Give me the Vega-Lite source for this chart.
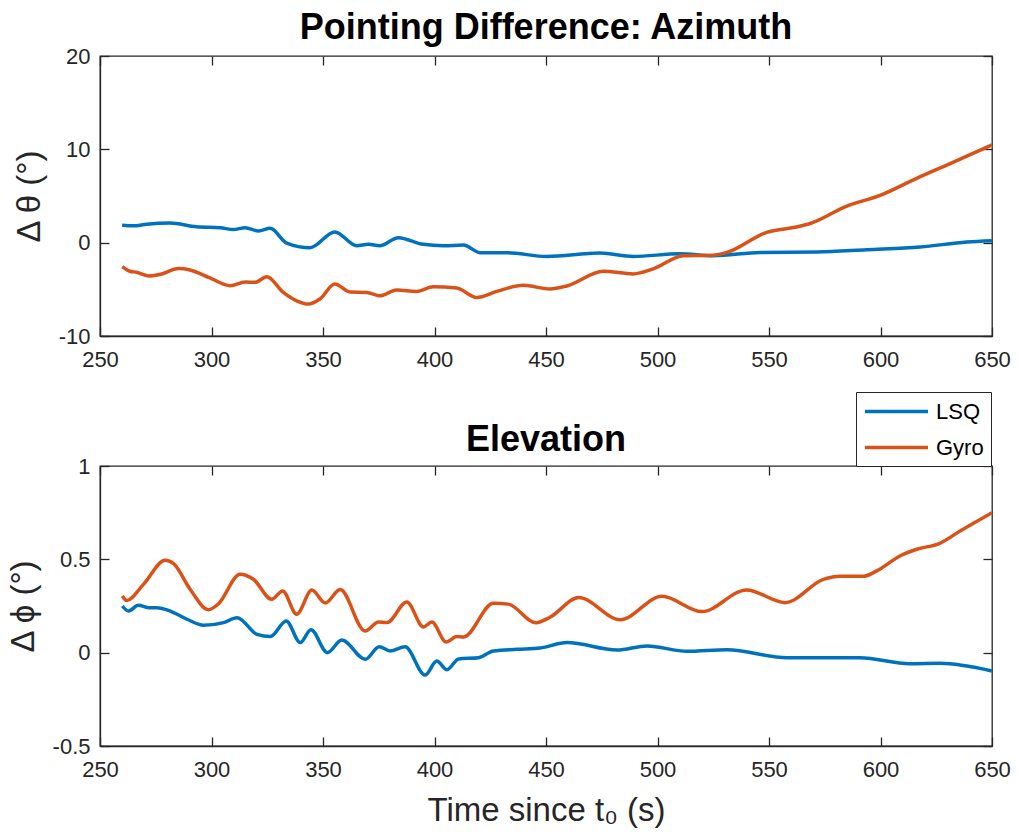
{
  "$schema": "https://vega.github.io/schema/vega-lite/v6.json",
  "padding": {"left": 6, "top": 9, "right": 5, "bottom": 5},
  "bounds": "flush",
  "spacing": 130,
  "config": {
    "font": "Liberation Sans",
    "view": {"stroke": "#262626", "strokeWidth": 1.3},
    "axis": {"grid": false, "labelFlush": false, "domainColor": "#262626", "domainWidth": 1.3, "tickColor": "#262626", "tickWidth": 1.3, "tickSize": -9, "labelPadding": 19, "labelFontSize": 22, "labelColor": "#262626", "titleFontSize": 33, "titleColor": "#262626", "titleFontWeight": "normal", "labelFont": "Liberation Sans", "titleFont": "Liberation Sans"},
    "axisX": {"labelPadding": 22},
    "title": {"fontSize": 36, "fontWeight": "bold", "color": "#000000", "font": "Liberation Sans"}
  },
  "datasets": {
    "az": [
      {"series": "LSQ", "t": 259.9, "v": 1.87},
      {"series": "LSQ", "t": 265, "v": 1.8},
      {"series": "LSQ", "t": 270.9, "v": 1.97},
      {"series": "LSQ", "t": 281.3, "v": 2.1},
      {"series": "LSQ", "t": 293.3, "v": 1.7},
      {"series": "LSQ", "t": 303.9, "v": 1.6},
      {"series": "LSQ", "t": 309.8, "v": 1.4},
      {"series": "LSQ", "t": 315.1, "v": 1.6},
      {"series": "LSQ", "t": 321.1, "v": 1.25},
      {"series": "LSQ", "t": 326.3, "v": 1.54},
      {"series": "LSQ", "t": 333.7, "v": -0.04},
      {"series": "LSQ", "t": 344.2, "v": -0.54},
      {"series": "LSQ", "t": 355.3, "v": 1.15},
      {"series": "LSQ", "t": 365.1, "v": -0.33},
      {"series": "LSQ", "t": 370.4, "v": -0.18},
      {"series": "LSQ", "t": 375.4, "v": -0.33},
      {"series": "LSQ", "t": 383.8, "v": 0.54},
      {"series": "LSQ", "t": 394.9, "v": -0.18},
      {"series": "LSQ", "t": 404, "v": -0.33},
      {"series": "LSQ", "t": 413, "v": -0.26},
      {"series": "LSQ", "t": 420.5, "v": -1.08},
      {"series": "LSQ", "t": 432.4, "v": -1.08},
      {"series": "LSQ", "t": 450.3, "v": -1.48},
      {"series": "LSQ", "t": 474.2, "v": -1.12},
      {"series": "LSQ", "t": 489.1, "v": -1.48},
      {"series": "LSQ", "t": 510.1, "v": -1.19},
      {"series": "LSQ", "t": 525.1, "v": -1.4},
      {"series": "LSQ", "t": 546.1, "v": -1.05},
      {"series": "LSQ", "t": 571.5, "v": -1.01},
      {"series": "LSQ", "t": 593.9, "v": -0.76},
      {"series": "LSQ", "t": 617.8, "v": -0.47},
      {"series": "LSQ", "t": 638.7, "v": 0.07},
      {"series": "LSQ", "t": 650, "v": 0.21},
      {"series": "Gyro", "t": 260, "v": -2.56},
      {"series": "Gyro", "t": 263.4, "v": -3.06},
      {"series": "Gyro", "t": 266.4, "v": -3.17},
      {"series": "Gyro", "t": 271.6, "v": -3.56},
      {"series": "Gyro", "t": 277.7, "v": -3.35},
      {"series": "Gyro", "t": 285.1, "v": -2.77},
      {"series": "Gyro", "t": 290.4, "v": -2.92},
      {"series": "Gyro", "t": 299.3, "v": -3.78},
      {"series": "Gyro", "t": 308.4, "v": -4.61},
      {"series": "Gyro", "t": 315.1, "v": -4.21},
      {"series": "Gyro", "t": 319.5, "v": -4.25},
      {"series": "Gyro", "t": 324.8, "v": -3.64},
      {"series": "Gyro", "t": 332.2, "v": -5.33},
      {"series": "Gyro", "t": 338.2, "v": -6.23},
      {"series": "Gyro", "t": 343.4, "v": -6.58},
      {"series": "Gyro", "t": 348.6, "v": -6.04},
      {"series": "Gyro", "t": 355.3, "v": -4.42},
      {"series": "Gyro", "t": 362.1, "v": -5.29},
      {"series": "Gyro", "t": 369.6, "v": -5.33},
      {"series": "Gyro", "t": 375.6, "v": -5.69},
      {"series": "Gyro", "t": 383, "v": -5.07},
      {"series": "Gyro", "t": 392, "v": -5.22},
      {"series": "Gyro", "t": 399.4, "v": -4.72},
      {"series": "Gyro", "t": 410, "v": -4.86},
      {"series": "Gyro", "t": 418.9, "v": -5.87},
      {"series": "Gyro", "t": 427.9, "v": -5.22},
      {"series": "Gyro", "t": 439.8, "v": -4.57},
      {"series": "Gyro", "t": 451.7, "v": -4.96},
      {"series": "Gyro", "t": 459.3, "v": -4.64},
      {"series": "Gyro", "t": 475.7, "v": -3.06},
      {"series": "Gyro", "t": 489.1, "v": -3.35},
      {"series": "Gyro", "t": 498.1, "v": -2.81},
      {"series": "Gyro", "t": 511.6, "v": -1.4},
      {"series": "Gyro", "t": 525.1, "v": -1.34},
      {"series": "Gyro", "t": 531.1, "v": -1.05},
      {"series": "Gyro", "t": 549, "v": 1.11},
      {"series": "Gyro", "t": 561, "v": 1.62},
      {"series": "Gyro", "t": 568.5, "v": 2.05},
      {"series": "Gyro", "t": 584.9, "v": 3.92},
      {"series": "Gyro", "t": 599.8, "v": 5.07},
      {"series": "Gyro", "t": 617.8, "v": 7.08},
      {"series": "Gyro", "t": 629.7, "v": 8.31},
      {"series": "Gyro", "t": 650, "v": 10.47}
    ],
    "el": [
      {"series": "LSQ", "t": 260, "v": 0.25},
      {"series": "LSQ", "t": 262.8, "v": 0.223},
      {"series": "LSQ", "t": 267.2, "v": 0.254},
      {"series": "LSQ", "t": 271.7, "v": 0.241},
      {"series": "LSQ", "t": 275.5, "v": 0.241},
      {"series": "LSQ", "t": 281.5, "v": 0.223},
      {"series": "LSQ", "t": 289, "v": 0.179},
      {"series": "LSQ", "t": 296.4, "v": 0.147},
      {"series": "LSQ", "t": 305.4, "v": 0.161},
      {"series": "LSQ", "t": 311.5, "v": 0.187},
      {"series": "LSQ", "t": 320.4, "v": 0.098},
      {"series": "LSQ", "t": 326.4, "v": 0.086},
      {"series": "LSQ", "t": 333.5, "v": 0.17},
      {"series": "LSQ", "t": 339.8, "v": 0.054},
      {"series": "LSQ", "t": 344.6, "v": 0.123},
      {"series": "LSQ", "t": 352, "v": 0.0},
      {"series": "LSQ", "t": 358.4, "v": 0.068},
      {"series": "LSQ", "t": 369, "v": -0.035},
      {"series": "LSQ", "t": 375.2, "v": 0.032},
      {"series": "LSQ", "t": 380.1, "v": 0.009},
      {"series": "LSQ", "t": 386.8, "v": 0.032},
      {"series": "LSQ", "t": 395.8, "v": -0.12},
      {"series": "LSQ", "t": 401, "v": -0.045},
      {"series": "LSQ", "t": 405.6, "v": -0.091},
      {"series": "LSQ", "t": 410.8, "v": -0.034},
      {"series": "LSQ", "t": 419.8, "v": -0.027},
      {"series": "LSQ", "t": 426.4, "v": 0.009},
      {"series": "LSQ", "t": 437, "v": 0.018},
      {"series": "LSQ", "t": 447.4, "v": 0.025},
      {"series": "LSQ", "t": 459.4, "v": 0.054},
      {"series": "LSQ", "t": 481.8, "v": 0.014},
      {"series": "LSQ", "t": 495.3, "v": 0.036},
      {"series": "LSQ", "t": 513.2, "v": 0.007},
      {"series": "LSQ", "t": 531.2, "v": 0.016},
      {"series": "LSQ", "t": 558, "v": -0.027},
      {"series": "LSQ", "t": 590.8, "v": -0.027},
      {"series": "LSQ", "t": 613.2, "v": -0.059},
      {"series": "LSQ", "t": 626.6, "v": -0.057},
      {"series": "LSQ", "t": 650, "v": -0.098},
      {"series": "Gyro", "t": 260, "v": 0.304},
      {"series": "Gyro", "t": 262, "v": 0.28},
      {"series": "Gyro", "t": 269.5, "v": 0.366},
      {"series": "Gyro", "t": 279.2, "v": 0.495},
      {"series": "Gyro", "t": 283, "v": 0.477},
      {"series": "Gyro", "t": 290.4, "v": 0.34},
      {"series": "Gyro", "t": 298.6, "v": 0.23},
      {"series": "Gyro", "t": 303, "v": 0.26},
      {"series": "Gyro", "t": 312.8, "v": 0.42},
      {"series": "Gyro", "t": 318.8, "v": 0.393},
      {"series": "Gyro", "t": 327, "v": 0.286},
      {"series": "Gyro", "t": 331.9, "v": 0.33},
      {"series": "Gyro", "t": 338.2, "v": 0.206},
      {"series": "Gyro", "t": 345, "v": 0.336},
      {"series": "Gyro", "t": 351, "v": 0.266},
      {"series": "Gyro", "t": 357.7, "v": 0.338},
      {"series": "Gyro", "t": 368.9, "v": 0.116},
      {"series": "Gyro", "t": 374.9, "v": 0.164},
      {"series": "Gyro", "t": 378.7, "v": 0.161},
      {"series": "Gyro", "t": 387.6, "v": 0.272},
      {"series": "Gyro", "t": 395, "v": 0.138},
      {"series": "Gyro", "t": 398.8, "v": 0.164},
      {"series": "Gyro", "t": 405.2, "v": 0.057},
      {"series": "Gyro", "t": 410, "v": 0.086},
      {"series": "Gyro", "t": 413, "v": 0.084},
      {"series": "Gyro", "t": 426.4, "v": 0.265},
      {"series": "Gyro", "t": 433.1, "v": 0.26},
      {"series": "Gyro", "t": 445.5, "v": 0.16},
      {"series": "Gyro", "t": 451.8, "v": 0.19},
      {"series": "Gyro", "t": 464.6, "v": 0.295},
      {"series": "Gyro", "t": 483.3, "v": 0.177},
      {"series": "Gyro", "t": 502, "v": 0.302},
      {"series": "Gyro", "t": 519.9, "v": 0.22},
      {"series": "Gyro", "t": 540, "v": 0.336},
      {"series": "Gyro", "t": 557.2, "v": 0.268},
      {"series": "Gyro", "t": 574.4, "v": 0.393},
      {"series": "Gyro", "t": 582, "v": 0.41},
      {"series": "Gyro", "t": 592.3, "v": 0.409},
      {"series": "Gyro", "t": 598.3, "v": 0.438},
      {"series": "Gyro", "t": 608.7, "v": 0.518},
      {"series": "Gyro", "t": 616.3, "v": 0.554},
      {"series": "Gyro", "t": 626.6, "v": 0.586},
      {"series": "Gyro", "t": 635.7, "v": 0.652},
      {"series": "Gyro", "t": 650, "v": 0.75}
    ]
  },
  "vconcat": [
    {
      "width": 892,
      "height": 280,
      "title": {"text": "Pointing Difference: Azimuth", "offset": -2},
      "data": {"name": "az"},
      "layer": [
        {
          "mark": {"type": "line", "interpolate": "monotone", "strokeWidth": 3.5},
          "encoding": {
            "x": {"field": "t", "type": "quantitative", "scale": {"domain": [250, 650], "nice": false}, "axis": {"values": [250, 300, 350, 400, 450, 500, 550, 600, 650], "title": null, "labelExpr": "'' + datum.value"}},
            "y": {"field": "v", "type": "quantitative", "scale": {"domain": [-10, 20], "nice": false}, "axis": {"values": [-10, 0, 10, 20], "title": "Δ θ (°)", "titlePadding": 12, "labelExpr": "'' + datum.value"}},
            "color": {"field": "series", "type": "nominal", "scale": {"domain": ["LSQ", "Gyro"], "range": ["#0072BD", "#D95319"]},
              "legend": {"title": null, "orient": "none", "legendX": 756, "legendY": 336, "symbolType": "M-1,0H5", "symbolSize": 441, "symbolStrokeWidth": 3.5, "labelFontSize": 22, "labelColor": "#000000", "strokeColor": "#262626", "fillColor": "#ffffff", "padding": 7, "rowPadding": 12, "labelOffset": 48}}
          }
        },
        {
          "mark": {"type": "line", "interpolate": "monotone", "opacity": 0},
          "encoding": {
            "x": {"field": "t", "type": "quantitative", "axis": {"orient": "top", "values": [250, 300, 350, 400, 450, 500, 550, 600, 650], "labels": false, "domain": false, "title": null}},
            "y": {"field": "v", "type": "quantitative", "axis": {"orient": "right", "values": [-10, 0, 10, 20], "labels": false, "domain": false, "title": null}},
            "detail": {"field": "series"}
          }
        }
      ],
      "resolve": {"axis": {"x": "independent", "y": "independent"}}
    },
    {
      "width": 892,
      "height": 280,
      "title": {"text": "Elevation", "offset": -4},
      "data": {"name": "el"},
      "layer": [
        {
          "mark": {"type": "line", "interpolate": "monotone", "strokeWidth": 3.5},
          "encoding": {
            "x": {"field": "t", "type": "quantitative", "scale": {"domain": [250, 650], "nice": false}, "axis": {"values": [250, 300, 350, 400, 450, 500, 550, 600, 650], "title": "Time since t₀ (s)", "titlePadding": 14, "labelExpr": "'' + datum.value"}},
            "y": {"field": "v", "type": "quantitative", "scale": {"domain": [-0.5, 1], "nice": false}, "axis": {"values": [-0.5, 0, 0.5, 1], "title": "Δ ϕ (°)", "titlePadding": 12, "labelExpr": "'' + datum.value"}},
            "color": {"field": "series", "type": "nominal", "scale": {"domain": ["LSQ", "Gyro"], "range": ["#0072BD", "#D95319"]}}
          }
        },
        {
          "mark": {"type": "line", "interpolate": "monotone", "opacity": 0},
          "encoding": {
            "x": {"field": "t", "type": "quantitative", "axis": {"orient": "top", "values": [250, 300, 350, 400, 450, 500, 550, 600, 650], "labels": false, "domain": false, "title": null}},
            "y": {"field": "v", "type": "quantitative", "axis": {"orient": "right", "values": [-0.5, 0, 0.5, 1], "labels": false, "domain": false, "title": null}},
            "detail": {"field": "series"}
          }
        }
      ],
      "resolve": {"axis": {"x": "independent", "y": "independent"}}
    }
  ]
}
